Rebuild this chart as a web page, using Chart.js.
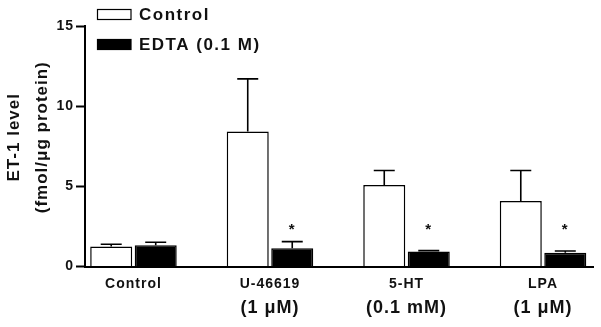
<!DOCTYPE html>
<html>
<head>
  <meta charset="UTF-8">
  <title>ET-1 level</title>
  <script src="https://cdn.jsdelivr.net/npm/chart.js"></script>
  <style>
    body { margin: 0; background: #fff; }
    .chart-container { width: 601px; height: 327px; position: relative; }
  </style>
</head>
<body>
  <div class="chart-container"><canvas id="chart"></canvas></div>

<script>
  // data
  const groups      = ['Control', 'U-46619', '5-HT', 'LPA'];
  const doses       = ['', '(1 \u03bcM)', '(0.1 mM)', '(1 \u03bcM)'];
  const controlMean = [1.24, 8.42, 5.09, 4.09];
  const controlSem  = [0.15, 3.28, 0.90, 1.90];
  const edtaMean    = [1.32, 1.14, 0.93, 0.86];
  const edtaSem     = [0.19, 0.41, 0.06, 0.11];
  const edtaSignif  = [false, true, true, true];
  const yTicks      = [0, 5, 10, 15];
  const seriesNames = ['Control', 'EDTA (0.1 M)'];
  const yTitle      = ['ET-1 level', '(fmol/\u03bcg protein)'];

  const FONT = '"Liberation Sans", Arial, sans-serif';
  Chart.defaults.font.family = FONT;
  Chart.defaults.font.weight = 'bold';
  Chart.defaults.color = '#111';

  const sems = [controlSem, edtaSem];

  // error bars (upper only), asterisks, dose labels, y title and the stacked legend
  const extras = {
    id: 'extras',
    beforeDraw(chart) {
      chart.ctx.letterSpacing = '1px';
    },
    afterDatasetsDraw(chart) {
      const ctx = chart.ctx;
      const x = chart.scales.x;
      const y = chart.scales.y;
      ctx.save();
      ctx.strokeStyle = '#000';
      ctx.lineWidth = 1.6;
      chart.data.datasets.forEach((ds, d) => {
        chart.getDatasetMeta(d).data.forEach((bar, i) => {
          const top = y.getPixelForValue(ds.data[i].y + sems[d][i]);
          ctx.beginPath();
          ctx.moveTo(bar.x, bar.y);
          ctx.lineTo(bar.x, top);
          ctx.moveTo(bar.x - 10.5, top);
          ctx.lineTo(bar.x + 10.5, top);
          ctx.stroke();
        });
      });
      ctx.fillStyle = '#111';
      ctx.textAlign = 'center';
      ctx.textBaseline = 'middle';
      // significance marks over EDTA bars
      ctx.font = 'bold 15px ' + FONT;
      chart.getDatasetMeta(1).data.forEach((bar, i) => {
        if (edtaSignif[i]) ctx.fillText('*', bar.x, y.getPixelForValue(2.3));
      });
      // second line of the category labels
      ctx.font = 'bold 18px ' + FONT;
      doses.forEach((t, i) => {
        if (t) ctx.fillText(t, x.getPixelForValue(i), x.top + 42);
      });
      // y axis title, two lines
      ctx.font = 'bold 17px ' + FONT;
      const cy = (y.top + y.bottom) / 2 - 9;
      yTitle.forEach((t, k) => {
        ctx.save();
        ctx.translate(14.5 + k * 27.5, cy);
        ctx.rotate(-Math.PI / 2);
        ctx.fillText(t, 0, 0);
        ctx.restore();
      });
      // legend
      ctx.font = 'bold 17px ' + FONT;
      ctx.textAlign = 'left';
      ctx.letterSpacing = '1.5px';
      chart.data.datasets.forEach((ds, d) => {
        const ly = 14.5 + d * 30;
        ctx.fillStyle = ds.backgroundColor;
        ctx.fillRect(97.5, ly - 5, 33.5, 10);
        ctx.lineWidth = 1.2;
        ctx.strokeRect(97.5, ly - 5, 33.5, 10);
        ctx.fillStyle = '#111';
        ctx.fillText(ds.label, 139, ly + 0.5);
      });
      ctx.restore();
    }
  };

  new Chart(document.getElementById('chart'), {
    type: 'bar',
    data: {
      datasets: [
        {
          label: seriesNames[0],
          data: controlMean.map((v, i) => ({ x: i, y: v })),
          backgroundColor: '#fff',
          borderColor: '#000',
          borderWidth: 1.5
        },
        {
          label: seriesNames[1],
          data: edtaMean.map((v, i) => ({ x: i, y: v })),
          backgroundColor: '#000',
          borderColor: '#000',
          borderWidth: 1.5
        }
      ]
    },
    options: {
      responsive: true,
      maintainAspectRatio: false,
      animation: false,
      categoryPercentage: 0.652,
      barPercentage: 0.944,
      layout: { padding: { left: 0, right: 8, top: 26, bottom: 0 } },
      plugins: { legend: { display: false }, tooltip: { enabled: false } },
      scales: {
        x: {
          type: 'linear',
          offset: false,
          min: -0.355,
          max: 3.366,
          afterBuildTicks: s => { s.ticks = groups.map((g, i) => ({ value: i })); },
          afterFit: s => { s.height = 60.5; },
          grid: { offset: false, drawOnChartArea: false, drawTicks: false },
          border: { color: '#000', width: 2 },
          ticks: {
            callback: v => groups[v],
            font: { size: 14, weight: 'bold' },
            padding: 9,
            maxRotation: 0
          }
        },
        y: {
          min: 0,
          max: 15,
          afterBuildTicks: s => { s.ticks = yTicks.map(v => ({ value: v })); },
          afterFit: s => { s.width = 85; },
          grid: { drawOnChartArea: false, color: '#000', tickLength: 9, tickWidth: 2 },
          border: { color: '#000', width: 2 },
          ticks: { font: { size: 14, weight: 'bold' }, padding: 2 }
        }
      }
    },
    plugins: [extras]
  });
</script>
</body>
</html>
